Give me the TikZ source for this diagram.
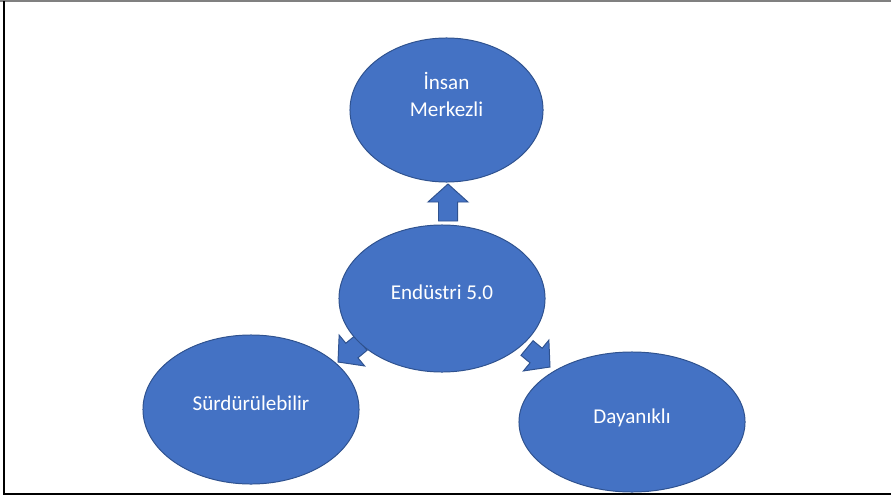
\documentclass[tikz,border=0pt]{standalone}
\usepackage{fontspec}
\setmainfont{Carlito}
\usetikzlibrary{shapes.geometric,calc}
\definecolor{ofcblue}{HTML}{4472C4}
\definecolor{ofcedge}{HTML}{2F528F}
\tikzset{
	oval/.style = {
		shape=ellipse,
		draw=ofcedge,
		line width=0.7pt,
		fill=ofcblue,
		text=white,
		font=\fontsize{15}{19}\selectfont,
		align=center,
		inner sep=0pt,
		text height=10.5pt,
		text depth=9pt
	},
	barrow/.style = {
		draw=ofcedge,
		line width=0.7pt,
		fill=ofcblue,
		line join=miter
	}
}
\newcommand{\blockarrow}[2]{
	\coordinate (hb) at ($(#2)!0.45cm!(#1)$);
	\draw[barrow] ($(#1)!0.2375cm!90:(#2)$) -- ($(hb)!0.2375cm!90:(#2)$)
		-- ($(hb)!0.5cm!90:(#2)$) -- (#2) -- ($(hb)!0.5cm!-90:(#2)$)
		-- ($(hb)!0.2375cm!-90:(#2)$) -- ($(#1)!0.2375cm!-90:(#2)$) -- cycle;
}
\begin{document}
\begin{tikzpicture}[x=0.025cm,y=-0.025cm]
		\useasboundingbox (0,0) rectangle (891,499);
		\draw[gray, line width=1pt] (0,1) -- (891,1);
		\draw[black, line width=1pt] (4,1) -- (4,494) -- (891,494);
		\coordinate (upTail) at (448,221);
		\coordinate (upTip) at (448,184);
		\coordinate (leftTail) at (361,343);
		\coordinate (leftTip) at (338,362);
		\coordinate (rightTail) at (527,348);
		\coordinate (rightTip) at (550,367);
		\blockarrow{upTail}{upTip}
		\blockarrow{leftTail}{leftTip}
		\blockarrow{rightTail}{rightTip}
		\node[oval, minimum width=4.825cm, minimum height=3.6cm,
			text depth=1.5pt] (insan) at (446.5,110) {İnsan\\Merkezli};
		\node[oval, minimum width=5.15cm, minimum height=3.675cm] (hub) at (442,298.5) {Endüstri 5.0};
		\node[oval, minimum width=5.4cm, minimum height=3.725cm] (surd) at (251,409.5) {Sürdürülebilir};
		\node[oval, minimum width=5.65cm, minimum height=3.5cm] (dayan) at (632,422) {Dayanıklı};
\end{tikzpicture}
\end{document}
